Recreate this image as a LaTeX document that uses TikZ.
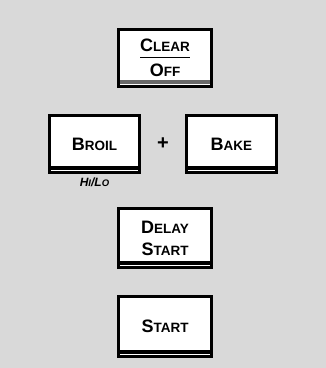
\documentclass[tikz,border=0pt]{standalone}
\usepackage{fontspec}
\setmainfont{Liberation Sans}
\usetikzlibrary{positioning,calc}
\definecolor{Panel}{HTML}{D9D9D9}
\definecolor{Bar}{HTML}{6A6A6A}
\newcommand\keycap[2]{{\fontsize{18}{18}\selectfont #1}{\fontsize{13.5}{14}\selectfont #2}}
\newcommand\ruled[1]{\vtop{\hbox{#1}\kern5pt\hrule height 1.4pt}}

\begin{document}
\begin{tikzpicture}[x=1pt,y=1pt,font=\bfseries\fontsize{14}{22}\selectfont,
  keybox/.style={draw,line width=2.8pt,fill=white,minimum width=90pt,minimum height=57pt,inner sep=0pt,align=center}]
  \fill[Panel] (0,0) rectangle (326,368);
  \useasboundingbox (0,0) rectangle (326,368);
  % keys
  \node[keybox,minimum width=93pt,font=\bfseries\fontsize{14}{25}\selectfont] (clear) at (165,310) {\ruled{\keycap{C}{LEAR}}\\\keycap{O}{FF}};
  \node[keybox] (broil) at (94.5,224) {\keycap{B}{ROIL}};
  \node[keybox,right=44pt of broil] (bake) {\keycap{B}{AKE}};
  \node[keybox,minimum width=93pt,minimum height=59pt] (delay) at (165,130) {\keycap{D}{ELAY}\\\keycap{S}{TART}};
  \node[keybox,minimum width=93pt,minimum height=60pt] (start) at (165,41.5) {\keycap{S}{TART}};
  \node[font=\bfseries\fontsize{20}{20}\selectfont] (plus) at ($(broil)!0.5!(bake)$) {+};
  \node[font=\bfseries\itshape,below=0.5pt of broil] (hilo) {{\fontsize{12}{12}\selectfont H}{\fontsize{9.5}{9}\selectfont I}{\fontsize{12}{12}\selectfont /L}{\fontsize{9.5}{9}\selectfont O}};
  % bars
  \fill[Bar] ($(clear.south west)+(3pt,3.8pt)$) rectangle ($(clear.south east)+(-3pt,7.8pt)$);
  \foreach \k in {broil,bake,delay,start}
    \fill ($(\k.south west)+(3pt,3.8pt)$) rectangle ($(\k.south east)+(-3pt,7.8pt)$);
\end{tikzpicture}
\end{document}
